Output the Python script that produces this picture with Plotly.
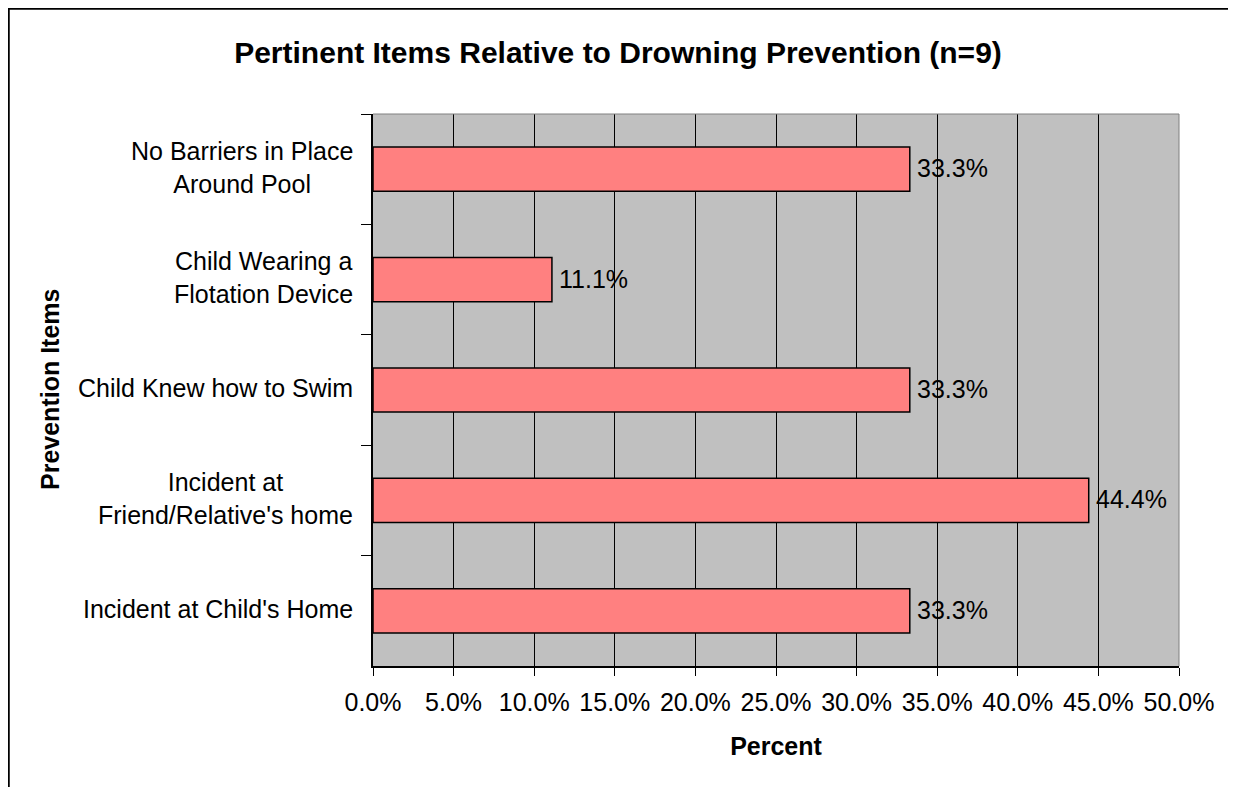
import plotly.graph_objects as go

categories = [
    "No Barriers in Place<br>Around Pool",
    "Child Wearing a<br>Flotation Device",
    "Child Knew how to Swim",
    "Incident at<br>Friend/Relative's home",
    "Incident at Child's Home",
]
values = [33.3, 11.1, 33.3, 44.4, 33.3]
value_labels = ["33.3%", "11.1%", "33.3%", "44.4%", "33.3%"]
x_ticks = [0, 5, 10, 15, 20, 25, 30, 35, 40, 45, 50]

FONT = "Liberation Sans, Arial, sans-serif"

# page body has an 8px margin, so figure coordinates are screen - 8
W, H = 1228, 779
L, R, T, B = 365, 57, 106, 121
PW = W - L - R
PH = H - T - B

fig = go.Figure()
fig.add_trace(go.Bar(
    y=categories,
    x=values,
    orientation="h",
    width=0.4,
    marker=dict(color="#FF8080", line=dict(color="black", width=1.5)),
    hoverinfo="skip",
))

annotations = []
for cat, v, lab in zip(categories, values, value_labels):
    annotations.append(dict(
        x=v, y=cat, xref="x", yref="y", text=lab, showarrow=False,
        xanchor="left", yanchor="middle", xshift=5, yshift=1,
        font=dict(family=FONT, size=25, color="black"),
    ))
    annotations.append(dict(
        x=0, y=cat, xref="paper", yref="y", text=cat, showarrow=False,
        xanchor="right", yanchor="middle", xshift=-18, yshift=2, align="center",
        font=dict(family=FONT, size=25, color="black"),
    ))

annotations.append(dict(
    x=(42 - L) / PW, y=0.5, xref="paper", yref="paper", text="<b>Prevention Items</b>",
    showarrow=False, textangle=-90, xanchor="center", yanchor="middle",
    font=dict(family=FONT, size=25, color="black"),
))

fig.update_layout(
    width=W, height=H,
    margin=dict(l=L, r=R, t=T, b=B, pad=0),
    paper_bgcolor="white",
    plot_bgcolor="#C0C0C0",
    showlegend=False,
    title=dict(
        text="<b>Pertinent Items Relative to Drowning Prevention (n=9)</b>",
        x=(618 - 8) / W, xanchor="center", xref="container",
        y=1 - 44 / H, yanchor="middle", yref="container",
        font=dict(family=FONT, size=30, color="black"),
    ),
    xaxis=dict(
        range=[0, 50],
        tickvals=x_ticks,
        ticktext=[f"{t:.1f}%" for t in x_ticks],
        tickangle=0,
        showgrid=True, gridcolor="black", gridwidth=1,
        zeroline=False,
        showline=True, linecolor="black", linewidth=1.5,
        ticks="outside", ticklen=8, tickcolor="black", tickwidth=1,
        ticklabelstandoff=5,
        tickfont=dict(family=FONT, size=25, color="black"),
        title=dict(text="<b>Percent</b>", standoff=23,
                   font=dict(family=FONT, size=25, color="black")),
        fixedrange=True,
    ),
    yaxis=dict(
        type="category",
        categoryorder="array", categoryarray=categories,
        autorange="reversed",
        tickson="boundaries",
        showticklabels=False,
        showgrid=False, zeroline=False,
        showline=True, linecolor="black", linewidth=1.5,
        ticks="outside", ticklen=10, tickcolor="black", tickwidth=1,
        fixedrange=True,
    ),
    annotations=annotations,
    shapes=[
        dict(type="line", xref="paper", yref="paper", x0=0, x1=1, y0=1, y1=1,
             line=dict(color="#808080", width=1)),
        dict(type="line", xref="paper", yref="paper", x0=1, x1=1, y0=0, y1=1,
             line=dict(color="#808080", width=1)),
        dict(type="rect", xref="paper", yref="paper",
             x0=(0.5 - L) / PW, x1=(1225.5 - L) / PW,
             y0=-(B + 40) / PH, y1=(PH + T - 0.5) / PH,
             line=dict(color="black", width=2.5)),
    ],
)

fig.write_html("out.html")
